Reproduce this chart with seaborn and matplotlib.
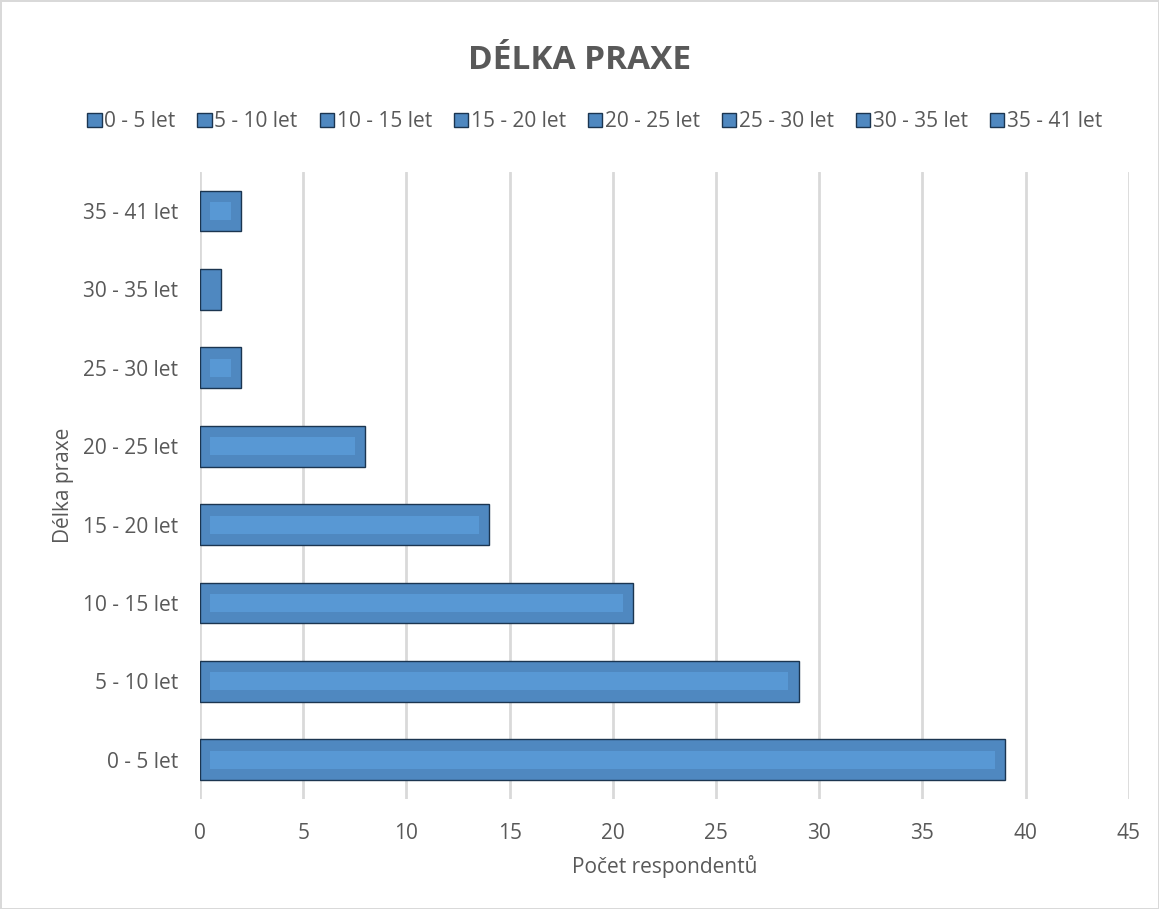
import matplotlib
matplotlib.use("Agg")
import matplotlib.pyplot as plt
import matplotlib.patches as mpatches
import seaborn as sns
import pandas as pd

# data
categories = ["0 - 5 let", "5 - 10 let", "10 - 15 let", "15 - 20 let",
              "20 - 25 let", "25 - 30 let", "30 - 35 let", "35 - 41 let"]
counts = [39, 29, 21, 14, 8, 2, 1, 2]
xticks = [0, 5, 10, 15, 20, 25, 30, 35, 40, 45]

bar_col = "#4F88C0"
inner_col = "#5898D4"
edge_col = "#1B3550"
text_col = "#595959"

sns.set_theme(style="white")
plt.rcParams["font.family"] = ["Open Sans", "DejaVu Sans"]

df = pd.DataFrame({"cat": categories, "n": counts})
# top of chart shows the last category
order = categories[::-1]

fig, ax = plt.subplots(figsize=(11.59, 9.09), dpi=100)
fig.subplots_adjust(left=0.1726, right=0.974, top=0.811, bottom=0.121)

sns.barplot(data=df, y="cat", x="n", order=order, orient="h",
            color=bar_col, saturation=1, width=0.52,
            edgecolor=edge_col, linewidth=1.0, ax=ax, zorder=3)

# inner lighter rectangle (Excel style bevel)
for p in list(ax.patches):
    w = p.get_width()
    h = p.get_height()
    if w - 1.0 > 0.05:
        ax.add_patch(mpatches.Rectangle(
            (p.get_x() + 0.5, p.get_y() + h * 0.28), w - 1.0, h * 0.44,
            facecolor=inner_col, edgecolor="none", zorder=4))

ax.set_xlim(0, 45)
ax.set_xticks(xticks)
ax.grid(axis="x", color="#D9D9D9", linewidth=2)
ax.grid(axis="y", visible=False)
ax.set_axisbelow(True)
for s in ax.spines.values():
    s.set_visible(False)
ax.tick_params(axis="both", length=0, labelsize=15, colors=text_col)
ax.tick_params(axis="y", pad=16)
ax.tick_params(axis="x", pad=17)
ax.set_xlabel("Počet respondentů", fontsize=15, color=text_col, labelpad=8)
ax.set_ylabel("Délka praxe", fontsize=15, color=text_col, labelpad=6)

fig.suptitle("DÉLKA PRAXE", y=0.952, fontsize=24, fontweight="bold", color=text_col)

handles = [mpatches.Patch(facecolor=bar_col, edgecolor=edge_col, linewidth=1, label=c)
           for c in categories]
fig.legend(handles=handles, loc="center", bbox_to_anchor=(0.513, 0.866), ncol=8,
           frameon=False, fontsize=15, labelcolor=text_col, handlelength=0.7,
           handleheight=0.7, handletextpad=0.12, columnspacing=1.05)

fig.patch.set_edgecolor("#D9D9D9")
fig.patch.set_linewidth(2)

fig.savefig("out.png", dpi=100)
